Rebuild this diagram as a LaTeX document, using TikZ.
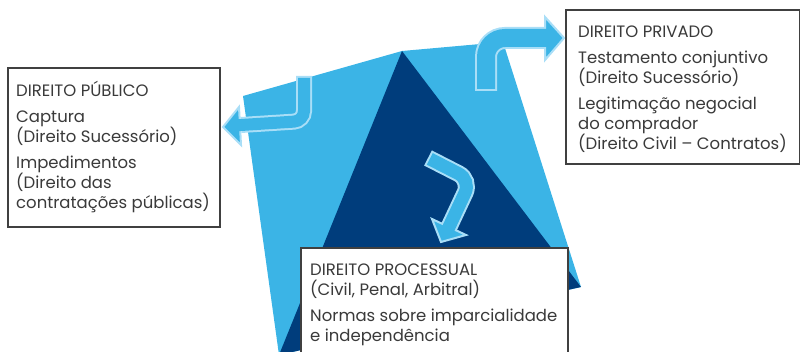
\documentclass[tikz,border=0pt]{standalone}
\usepackage{fontspec}
\setmainfont{Poppins}
\usepackage{tikz}
\definecolor{skyblue}{HTML}{3BB4E6}
\definecolor{navy}{HTML}{003D7C}
\definecolor{arrowrim}{HTML}{A9DEF7}
\definecolor{boxgray}{HTML}{404040}
\definecolor{txtgray}{HTML}{3A3A3A}

\begin{document}
\begin{tikzpicture}
  [x=1pt,y=-1pt,
   panel/.style={draw=boxgray,line width=1.2pt,fill=white,anchor=north west,outer sep=0pt,inner sep=0pt},
   paneltext/.style={anchor=north west,inner sep=0pt,align=left,text=txtgray,font=\fontsize{16.5}{20}\selectfont},
   rim/.style={draw=arrowrim},
   core/.style={draw=skyblue},
   headfill/.style={fill=skyblue,draw=arrowrim,line width=2pt,line join=miter}]
  \useasboundingbox (0,0) rectangle (801,352);
  \clip (0,0) rectangle (801,352);

  \fill[skyblue] (243,96) -- (402,51) -- (503,42) -- (581,287) -- (279,355) -- cycle;
  \fill[navy] (402,51) -- (581,287) -- (279,355) -- cycle;

  % arrow to the left
  \draw[rim,line width=16pt,rounded corners=10pt] (304,76) -- (304,121) -- (241,125);
  \draw[headfill] (239,107) -- (223,127) -- (241,145) -- cycle;
  \draw[core,line width=12pt,rounded corners=10pt] (304,78) -- (304,121) -- (237,125.25);

  % arrow to the right
  \draw[rim,line width=22pt,rounded corners=19pt] (486,91) -- (486,38) -- (546,38);
  \draw[headfill] (545,17) -- (564,38) -- (545,60) -- cycle;
  \draw[core,line width=18pt,rounded corners=19pt] (486,89) -- (486,38) -- (548,38);

  % arrow downwards
  \draw[rim,line width=17pt,rounded corners=14pt] (428,158) -- (471,180) -- (449,227);
  \draw[headfill] (432,219) -- (441,242) -- (466,235) -- cycle;
  \draw[core,line width=13pt,rounded corners=14pt] (429.8,158.9) -- (471,180) -- (447.7,229.8);

  \node[panel,minimum width=212pt,minimum height=159pt] (pub) at (8,68) {};
  \node[panel,minimum width=233.5pt,minimum height=154pt] (priv) at (566,10) {};
  \node[panel,minimum width=267pt,minimum height=120pt] (proc) at (301,248) {};

  \node[paneltext] (pubtext) at ([xshift=8pt,yshift=-11pt]pub.north west)
    {\rule{0pt}{17pt}DIREITO PÚBLICO\\[6pt]
     Captura\\ (Direito Sucessório)\\[6pt]
     Impedimentos\\ (Direito das\\ contratações públicas)};
  \node[paneltext] (privtext) at ([xshift=12pt,yshift=-10pt]priv.north west)
    {\rule{0pt}{17pt}DIREITO PRIVADO\\[6pt]
     Testamento conjuntivo\\ (Direito Sucessório)\\[6pt]
     Legitimação negocial\\ do comprador\\ (Direito Civil – Contratos)};
  \node[paneltext] (proctext) at ([xshift=9pt,yshift=-10pt]proc.north west)
    {\rule{0pt}{17pt}DIREITO PROCESSUAL\\
     (Civil, Penal, Arbitral)\\[6pt]
     Normas sobre imparcialidade\\ e independência};
\end{tikzpicture}
\end{document}
